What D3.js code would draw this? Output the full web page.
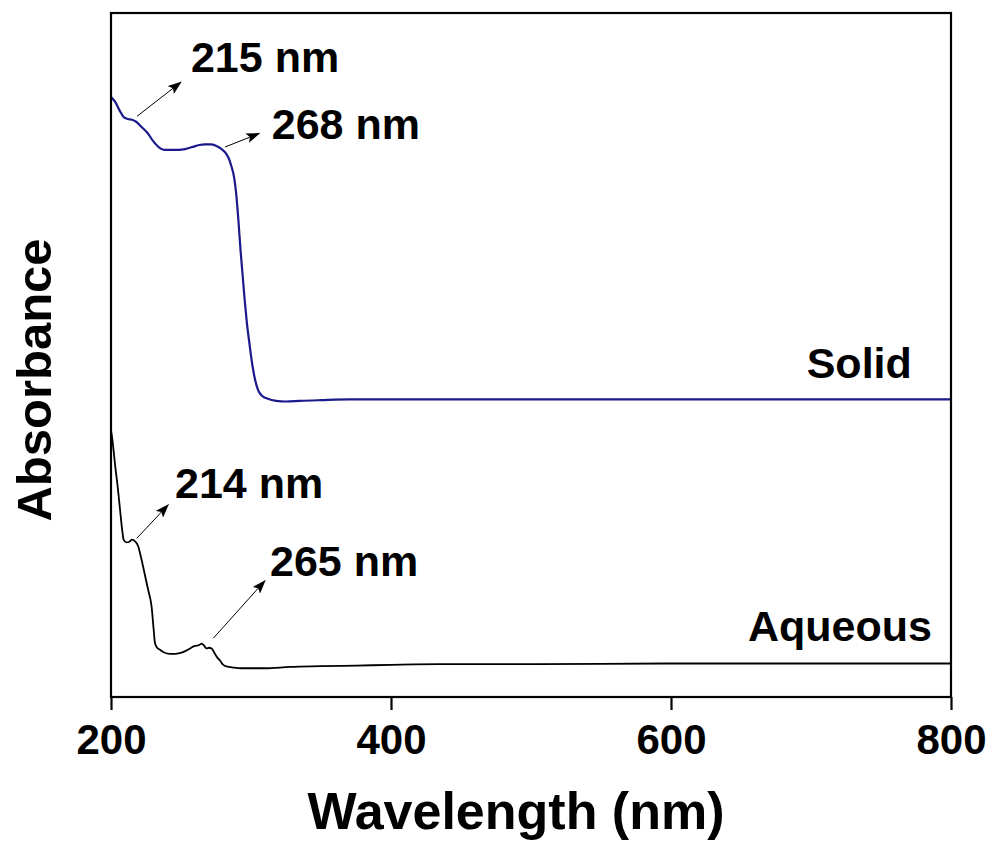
<!DOCTYPE html>
<html>
<head>
<meta charset="utf-8">
<script src="https://cdn.jsdelivr.net/npm/d3@7"></script>
<style>
    body { margin: 0; background: #fff; }
    text { font-family: "Liberation Sans", Arial, sans-serif; font-weight: bold; fill: #000; }
</style>
</head>
<body>
<div id="chart"></div>
<script>
    // wavelength (nm) and absorbance (a.u.)
    const solidWl = [200, 203, 206, 209, 212, 215, 218, 222, 226, 230, 234, 238, 243, 248, 253, 258, 263, 267, 271, 275,
        279, 282, 284, 286, 288, 289.5, 291, 292.5, 294, 295.5, 297, 299, 301, 303, 305, 308, 312, 318, 325, 335,
        350, 370, 400, 500, 600, 700, 800];
    const solidAbs = [0.877, 0.870, 0.858, 0.848, 0.845, 0.844, 0.841, 0.833, 0.825, 0.813, 0.804, 0.800, 0.800, 0.800,
        0.801, 0.804, 0.807, 0.808, 0.808, 0.806, 0.801, 0.795, 0.788, 0.776, 0.759, 0.734, 0.697, 0.654, 0.617, 0.580,
        0.548, 0.515, 0.485, 0.463, 0.449, 0.440, 0.436, 0.433, 0.432, 0.433, 0.434, 0.435, 0.435, 0.435, 0.435,
        0.435, 0.435];

    const aqueousWl = [200, 201, 203, 205, 206.5, 208, 209, 211, 213, 215, 217, 219.5, 221, 223, 225, 226.6, 229, 230.5,
        231.4, 233, 235, 238, 242, 246, 249, 253, 256.4, 259, 261.2, 263, 264.8, 266.5, 268.3, 270, 271.9, 274, 275.5,
        278, 280.2, 284, 287.4, 293, 299.3, 310, 327.9, 350, 375.5, 400, 435, 500, 600, 700, 800];
    const aqueousAbs = [0.390, 0.376, 0.338, 0.303, 0.273, 0.244, 0.230, 0.226, 0.227, 0.230, 0.228, 0.220, 0.208, 0.190,
        0.171, 0.156, 0.132, 0.098, 0.079, 0.072, 0.069, 0.065, 0.063, 0.063, 0.064, 0.067, 0.071, 0.074, 0.075, 0.076,
        0.078, 0.075, 0.071, 0.072, 0.071, 0.064, 0.059, 0.053, 0.047, 0.044, 0.043, 0.042, 0.042, 0.042, 0.044, 0.045,
        0.046, 0.047, 0.048, 0.048, 0.049, 0.049, 0.049];

    const xTicks = [200, 400, 600, 800];

    // peak labels: arrow tail (wl, abs) -> arrow head (wl, abs), label at (wl, abs)
    const peakLabels = ["215 nm", "268 nm", "214 nm", "265 nm"];
    const peakFrom = [[218.6, 0.849], [281.4, 0.804], [218.4, 0.232], [273.1, 0.086]];
    const peakTo = [[250, 0.899], [305.9, 0.824], [240.9, 0.281], [310, 0.170]];
    const peakText = [[257.1, 0.914], [314.8, 0.816], [245.7, 0.291], [313.6, 0.177]];

    const width = 987, height = 843;
    const margin = {top: 13, right: 36, bottom: 146, left: 111};

    const svg = d3.select("#chart").append("svg").attr("width", width).attr("height", height);
    svg.append("defs").append("marker").attr("id", "arrow")
        .attr("viewBox", "0 0 14 10").attr("refX", 13).attr("refY", 5)
        .attr("markerWidth", 14).attr("markerHeight", 10).attr("markerUnits", "userSpaceOnUse")
        .attr("orient", "auto")
        .append("path").attr("d", "M0,0 L14,5 L0,10 L3,5 z").attr("fill", "#000");

    const x = d3.scaleLinear().domain([200, 800]).range([margin.left, width - margin.right]);
    const y = d3.scaleLinear().domain([0, 1]).range([height - margin.bottom, margin.top]);

    const line = d3.line().x(d => x(d[0])).y(d => y(d[1])).curve(d3.curveMonotoneX);

    svg.append("path").datum(d3.zip(solidWl, solidAbs))
        .attr("d", line).attr("fill", "none").attr("stroke", "#1a1a8c").attr("stroke-width", 2.2);
    svg.append("path").datum(d3.zip(aqueousWl, aqueousAbs))
        .attr("d", line).attr("fill", "none").attr("stroke", "#000").attr("stroke-width", 1.8);

    // frame
    svg.append("rect").attr("x", x(200)).attr("y", y(1))
        .attr("width", x(800) - x(200)).attr("height", y(0) - y(1))
        .attr("fill", "none").attr("stroke", "#000").attr("stroke-width", 2.2);

    const xAxis = svg.append("g").attr("transform", `translate(0,${y(0)})`)
        .call(d3.axisBottom(x).tickValues(xTicks).tickSize(13).tickPadding(14).tickFormat(d3.format("d")));
    xAxis.select(".domain").remove();
    xAxis.selectAll(".tick line").attr("stroke-width", 2.2);
    xAxis.selectAll(".tick text").style("font-size", "42px").attr("font-family", null);

    svg.append("text").attr("x", 516).attr("y", 829).attr("text-anchor", "middle")
        .style("font-size", "52px").text("Wavelength (nm)");
    svg.append("text").attr("transform", "translate(51,380) rotate(-90)").attr("text-anchor", "middle")
        .style("font-size", "49px").text("Absorbance");

    peakLabels.forEach((label, i) => {
        svg.append("line")
            .attr("x1", x(peakFrom[i][0])).attr("y1", y(peakFrom[i][1]))
            .attr("x2", x(peakTo[i][0])).attr("y2", y(peakTo[i][1]))
            .attr("stroke", "#000").attr("stroke-width", 1).attr("marker-end", "url(#arrow)");
        svg.append("text").attr("x", x(peakText[i][0])).attr("y", y(peakText[i][1]))
            .style("font-size", "43px").text(label);
    });

    svg.append("text").attr("x", x(772)).attr("y", y(0.466)).attr("text-anchor", "end")
        .style("font-size", "43px").text("Solid");
    svg.append("text").attr("x", x(786.4)).attr("y", y(0.082)).attr("text-anchor", "end")
        .style("font-size", "43px").text("Aqueous");
</script>
</body>
</html>
